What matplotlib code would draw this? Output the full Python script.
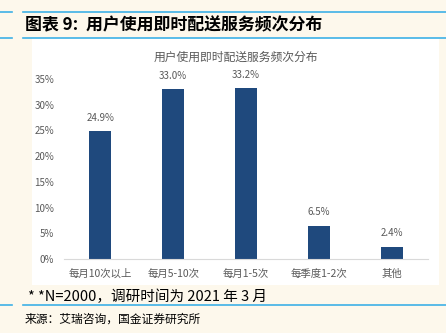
import matplotlib
matplotlib.use("Agg")
import matplotlib.pyplot as plt
from matplotlib.patches import Rectangle
from matplotlib.lines import Line2D

plt.rcParams['font.family'] = ['Noto Sans CJK SC', 'DejaVu Sans']

# 数据
categories = ["每月10次以上", "每月5-10次", "每月1-5次", "每季度1-2次", "其他"]
values = [24.9, 33.0, 33.2, 6.5, 2.4]
yticks = [0, 5, 10, 15, 20, 25, 30, 35]

W, H = 446, 333
bg = "#FDF8EC"
line_blue = "#3DB1E6"
bar_color = "#1F497D"
grey = "#595959"


def fx(px):
    return px / W


def fy(py):
    return 1 - py / H


fig = plt.figure(figsize=(W / 100, H / 100), dpi=100, facecolor=bg)

# 白色图表底板
fig.patches.append(Rectangle((fx(32), fy(285)), fx(407), 247 / H,
                             transform=fig.transFigure, facecolor="white",
                             edgecolor="none", zorder=-1))

# 蓝色分隔线
for y in (12, 38, 305):
    fig.add_artist(Line2D([fx(23), 1], [fy(y), fy(y)], color=line_blue, lw=1.2))
    fig.add_artist(Line2D([0, fx(12)], [fy(y), fy(y)], color=line_blue, lw=1.2))

fig.text(fx(25), fy(25), "图表 9:  用户使用即时配送服务频次分布", fontsize=12.2,
         fontweight="bold", ha="left", va="center", color="black")

ax = fig.add_axes([fx(64), fy(259), fx(428 - 64), (259 - 79) / H])
ax.set_facecolor("white")
x = list(range(len(categories)))
ax.bar(x, values, width=0.3, color=bar_color, zorder=2)
for xi, v in zip(x, values):
    ax.text(xi, v + 1.6, f"{v:.1f}%", ha="center", va="bottom", fontsize=7, color=grey)

ax.set_xlim(-0.5, len(categories) - 0.5)
ax.set_ylim(0, 35)
ax.set_yticks(yticks)
ax.set_yticklabels([f"{t}%" for t in yticks], fontsize=7, color=grey)
ax.set_xticks(x)
ax.set_xticklabels(categories, fontsize=7.5, color=grey)
ax.tick_params(axis="both", length=0, pad=7)
ax.tick_params(axis="x", pad=7)
for side in ("top", "right", "left"):
    ax.spines[side].set_visible(False)
ax.spines["bottom"].set_color("#D9D9D9")
ax.spines["bottom"].set_linewidth(0.8)

fig.text(fx(236), fy(57), "用户使用即时配送服务频次分布", fontsize=8.5, color=grey,
         ha="center", va="center")

fig.text(fx(28), fy(297), "* *N=2000，调研时间为 2021 年 3 月", fontsize=10.5,
         ha="left", va="center", color="black")
fig.text(fx(25), fy(319), "来源：艾瑞咨询，国金证券研究所", fontsize=8.5,
         ha="left", va="center", color="black")

fig.savefig("out.png", dpi=100, facecolor=bg)
